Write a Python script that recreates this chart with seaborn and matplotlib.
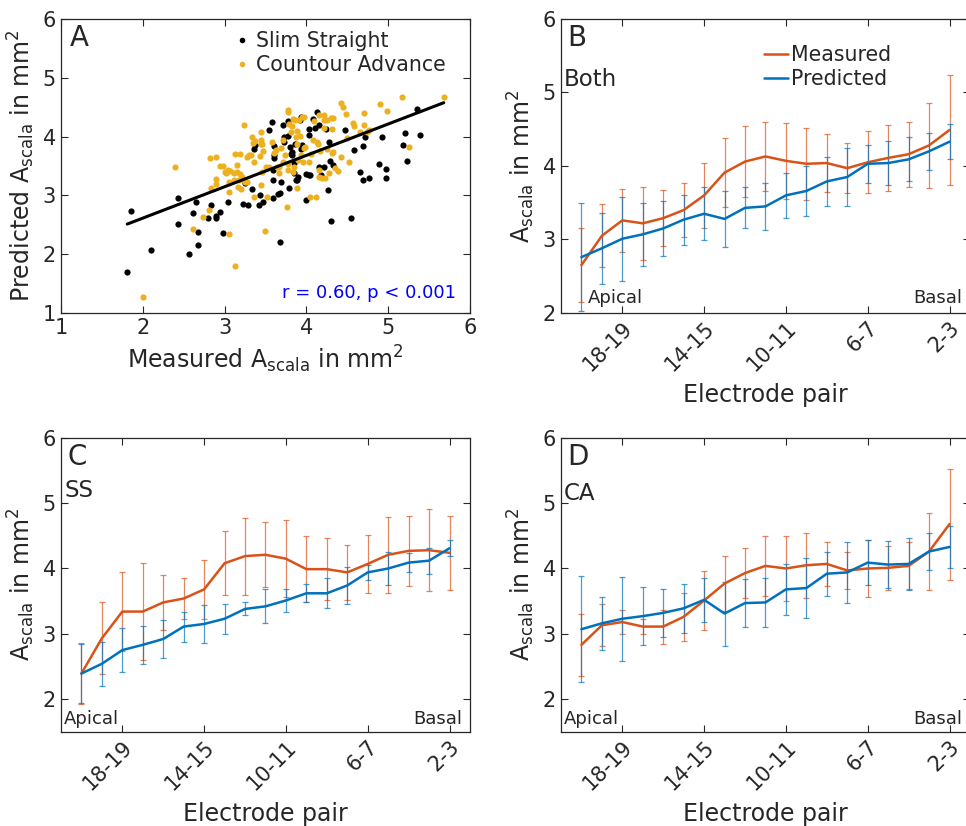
import numpy as np
import pandas as pd
import seaborn as sns
import matplotlib.pyplot as plt
from matplotlib.lines import Line2D

# ---- panel A: measured vs predicted scala area (mm^2)
ss_points = [
    (1.81, 1.69), (1.86, 2.73), (2.10, 2.07), (2.43, 2.96), (2.43, 2.51), (2.56, 2.01),
    (2.61, 2.70), (2.65, 2.88), (2.67, 2.15), (2.68, 2.38), (2.83, 2.83), (2.80, 2.62),
    (2.89, 2.61), (2.90, 2.65), (2.95, 2.72), (2.98, 2.36), (3.04, 2.88), (3.23, 2.85),
    (3.25, 3.21), (3.29, 2.83), (3.34, 3.11), (3.36, 3.79), (3.37, 3.85), (3.42, 2.84),
    (3.43, 3.00), (3.47, 2.89), (3.54, 4.12), (3.58, 4.25), (3.59, 2.96), (3.61, 3.84),
    (3.60, 3.68), (3.60, 3.64), (3.59, 3.44), (3.59, 3.26), (3.68, 3.04), (3.65, 3.02),
    (3.68, 2.20), (3.69, 3.22), (3.71, 4.19), (3.73, 4.00), (3.73, 3.91), (3.77, 4.27),
    (3.78, 4.01), (3.79, 3.13), (3.80, 3.82), (3.81, 3.70), (3.83, 3.68), (3.83, 3.73),
    (3.85, 3.55), (3.86, 3.87), (3.85, 3.38), (3.87, 3.26), (3.89, 3.27), (3.90, 3.31),
    (3.92, 4.29), (3.93, 4.33), (3.94, 3.79), (3.95, 3.86), (3.99, 2.92), (4.00, 3.36),
    (4.03, 4.13), (4.03, 4.03), (4.03, 3.35), (4.05, 3.35), (4.08, 4.30), (4.11, 4.14),
    (4.13, 4.42), (4.16, 4.19), (4.16, 3.49), (4.18, 3.34), (4.21, 3.49), (4.24, 4.13),
    (4.26, 3.10), (4.28, 3.91), (4.29, 3.59), (4.30, 2.56), (4.33, 3.51), (4.47, 4.11),
    (4.55, 2.62), (4.58, 3.77), (4.65, 3.39), (4.69, 3.84), (4.69, 3.27), (4.72, 4.00),
    (4.76, 3.30), (4.89, 3.54), (4.92, 4.00), (4.97, 3.45), (4.97, 3.30), (5.20, 4.06),
    (5.18, 3.86), (5.23, 3.59), (5.35, 4.47), (5.39, 4.02),
]
ca_points = [
    (2.00, 1.28), (2.40, 3.48), (2.62, 2.42), (2.74, 2.63), (2.81, 2.75), (2.82, 3.63),
    (2.83, 3.13), (2.90, 3.65), (2.89, 3.28), (2.90, 3.19), (2.94, 3.50), (2.98, 3.50),
    (3.00, 3.39), (3.02, 3.38), (3.04, 3.43), (3.06, 3.23), (3.06, 3.06), (3.06, 2.35),
    (3.07, 3.41), (3.11, 3.26), (3.12, 3.38), (3.13, 3.70), (3.13, 1.80), (3.15, 3.52),
    (3.15, 3.39), (3.17, 3.15), (3.18, 3.26), (3.19, 3.70), (3.19, 3.36), (3.20, 3.11),
    (3.21, 3.32), (3.24, 4.20), (3.25, 3.23), (3.27, 3.66), (3.28, 3.23), (3.30, 3.68),
    (3.32, 3.68), (3.34, 3.99), (3.35, 3.89), (3.36, 3.56), (3.36, 2.98), (3.37, 3.93),
    (3.43, 3.67), (3.44, 3.18), (3.44, 4.08), (3.44, 3.94), (3.45, 3.87), (3.46, 3.40),
    (3.46, 3.87), (3.47, 3.76), (3.50, 2.40), (3.51, 3.49), (3.52, 2.98), (3.54, 3.48),
    (3.58, 3.90), (3.61, 3.72), (3.63, 3.78), (3.64, 3.48), (3.66, 3.38), (3.67, 3.49),
    (3.69, 3.80), (3.71, 3.94), (3.72, 3.56), (3.74, 3.69), (3.76, 2.80), (3.77, 3.43),
    (3.78, 3.53), (3.78, 4.45), (3.78, 4.41), (3.79, 4.21), (3.81, 4.08), (3.83, 4.18),
    (3.84, 3.40), (3.84, 4.30), (3.85, 3.49), (3.86, 4.28), (3.87, 4.00), (3.88, 4.10),
    (3.89, 3.87), (3.89, 3.12), (3.90, 3.60), (3.91, 4.28), (3.92, 4.01), (3.93, 3.69),
    (3.95, 4.33), (3.96, 3.56), (3.97, 4.33), (3.97, 3.81), (3.98, 3.83), (4.03, 3.56),
    (4.05, 2.98), (4.06, 3.70), (4.08, 3.94), (4.09, 4.27), (4.12, 2.98), (4.13, 3.91),
    (4.14, 3.87), (4.15, 4.36), (4.16, 3.32), (4.16, 3.44), (4.17, 3.76), (4.19, 3.30),
    (4.21, 4.29), (4.21, 4.36), (4.22, 4.14), (4.23, 3.29), (4.25, 3.79), (4.25, 4.29),
    (4.28, 3.38), (4.30, 4.31), (4.31, 4.13), (4.31, 3.72), (4.32, 4.32), (4.32, 3.74),
    (4.35, 3.47), (4.39, 3.42), (4.42, 3.66), (4.42, 4.57), (4.45, 4.51), (4.49, 4.38),
    (4.50, 3.98), (4.52, 3.57), (4.57, 4.23), (4.58, 4.18), (4.65, 4.07), (4.70, 4.40),
    (4.71, 4.20), (4.74, 4.08), (4.76, 4.11), (4.90, 4.55), (4.98, 4.44), (5.17, 4.68),
    (5.25, 3.83), (5.68, 4.68),
]

# ---- panels B-D: per electrode pair, apical -> basal
pairs = ['20-21', '19-20', '18-19', '17-18', '16-17', '15-16', '14-15', '13-14', '12-13',
         '11-12', '10-11', '9-10', '8-9', '7-8', '6-7', '5-6', '4-5', '3-4', '2-3']
tick_pairs = ['18-19', '14-15', '10-11', '6-7', '2-3']

both_meas = [2.65, 3.05, 3.26, 3.22, 3.29, 3.40, 3.60, 3.91, 4.06, 4.13, 4.07, 4.03, 4.04,
             3.97, 4.05, 4.11, 4.16, 4.28, 4.49]
both_meas_sd = [0.50, 0.43, 0.43, 0.50, 0.38, 0.37, 0.44, 0.47, 0.48, 0.47, 0.52, 0.49, 0.39,
                0.34, 0.42, 0.45, 0.44, 0.58, 0.75]
both_pred = [2.76, 2.88, 3.01, 3.07, 3.15, 3.27, 3.35, 3.28, 3.43, 3.45, 3.60, 3.66, 3.79,
             3.85, 4.03, 4.04, 4.09, 4.20, 4.33]
both_pred_sd = [0.73, 0.48, 0.57, 0.43, 0.38, 0.34, 0.36, 0.38, 0.28, 0.32, 0.31, 0.34, 0.33,
                0.40, 0.26, 0.30, 0.30, 0.25, 0.24]

ss_meas = [2.39, 2.93, 3.34, 3.34, 3.48, 3.54, 3.68, 4.08, 4.19, 4.21, 4.15, 3.99, 3.99,
           3.94, 4.07, 4.21, 4.27, 4.28, 4.24]
ss_meas_sd = [0.47, 0.55, 0.61, 0.74, 0.42, 0.31, 0.45, 0.49, 0.59, 0.50, 0.59, 0.51, 0.47,
              0.42, 0.45, 0.58, 0.54, 0.63, 0.57]
ss_pred = [2.39, 2.54, 2.75, 2.83, 2.92, 3.11, 3.15, 3.23, 3.38, 3.42, 3.51, 3.62, 3.62,
           3.74, 3.94, 4.00, 4.09, 4.12, 4.31]
ss_pred_sd = [0.45, 0.34, 0.34, 0.29, 0.29, 0.23, 0.29, 0.23, 0.10, 0.26, 0.18, 0.14, 0.23,
              0.29, 0.11, 0.25, 0.14, 0.20, 0.12]

ca_meas = [2.83, 3.13, 3.18, 3.11, 3.11, 3.26, 3.51, 3.77, 3.93, 4.04, 4.00, 4.05, 4.07,
           3.97, 4.00, 4.01, 4.04, 4.26, 4.68]
ca_meas_sd = [0.47, 0.32, 0.19, 0.11, 0.26, 0.37, 0.45, 0.42, 0.38, 0.46, 0.50, 0.50, 0.34,
              0.29, 0.43, 0.34, 0.36, 0.59, 0.85]
ca_pred = [3.07, 3.16, 3.23, 3.27, 3.32, 3.39, 3.52, 3.31, 3.47, 3.48, 3.68, 3.70, 3.92,
           3.94, 4.09, 4.06, 4.07, 4.26, 4.33]
ca_pred_sd = [0.81, 0.41, 0.64, 0.44, 0.37, 0.38, 0.34, 0.49, 0.37, 0.38, 0.39, 0.46, 0.34,
              0.47, 0.34, 0.36, 0.40, 0.28, 0.32]

ORANGE = '#D95319'
BLUE = '#0072BD'
GOLD = '#EDB120'
AX_COL = '#262626'

sns.set_style('ticks')
plt.rcParams['font.family'] = ['DejaVu Sans']
plt.rcParams['mathtext.default'] = 'regular'
plt.rcParams.update({
    'axes.edgecolor': AX_COL, 'axes.linewidth': 0.9,
    'xtick.color': AX_COL, 'ytick.color': AX_COL,
    'xtick.direction': 'in', 'ytick.direction': 'in',
    'xtick.top': True, 'ytick.right': True,
    'xtick.major.size': 5, 'ytick.major.size': 5,
    'xtick.labelsize': 15, 'ytick.labelsize': 15,
})

ylab = r'A$_{scala}$ in mm$^{2}$'
LAB = 17

fig = plt.figure(figsize=(9.66, 8.26), dpi=100)
axA = fig.add_axes([0.0631, 0.6211, 0.4234, 0.3559])
axB = fig.add_axes([0.5807, 0.6211, 0.4234, 0.3559])
axC = fig.add_axes([0.0631, 0.1142, 0.4234, 0.3556])
axD = fig.add_axes([0.5807, 0.1142, 0.4234, 0.3556])

# ---- A
ss_df = pd.DataFrame(ss_points, columns=['meas', 'pred'])
ca_df = pd.DataFrame(ca_points, columns=['meas', 'pred'])
all_df = pd.concat([ss_df, ca_df])
sns.scatterplot(data=ss_df, x='meas', y='pred', ax=axA, color='black', s=20,
                linewidth=0, zorder=3)
sns.scatterplot(data=ca_df, x='meas', y='pred', ax=axA, color=GOLD, s=20,
                linewidth=0, zorder=3)
sns.regplot(data=all_df, x='meas', y='pred', ax=axA, scatter=False, ci=None,
            truncate=True, line_kws={'color': 'black', 'lw': 2.2, 'zorder': 4})
axA.set_xlim(1, 6)
axA.set_ylim(1, 6)
axA.set_xticks(range(1, 7))
axA.set_yticks(range(1, 7))
axA.set_xlabel(r'Measured A$_{scala}$ in mm$^{2}$', fontsize=LAB, color=AX_COL)
axA.set_ylabel(r'Predicted A$_{scala}$ in mm$^{2}$', fontsize=LAB, color=AX_COL)
axA.text(0.022, 0.935, 'A', transform=axA.transAxes, fontsize=20, va='center')
axA.text(0.966, 0.068, 'r = 0.60, p < 0.001', transform=axA.transAxes, fontsize=13,
         color='#0000FF', ha='right', va='center')
hA = [Line2D([], [], ls='', marker='o', ms=4, color='black', mec='none'),
      Line2D([], [], ls='', marker='o', ms=4, color=GOLD, mec='none')]
axA.legend(hA, ['Slim Straight', 'Countour Advance'], loc='upper left',
           bbox_to_anchor=(0.398, 1.0), frameon=False, fontsize=14.8,
           handlelength=0.6, handletextpad=0.35, labelspacing=0.2, borderaxespad=0.2)


def profile(ax, meas, meas_sd, pred, pred_sd, tag, group, ylim, legend=False):
    df = pd.DataFrame({'x': np.arange(len(pairs)), 'meas': meas, 'pred': pred})
    ax.errorbar(df['x'], df['meas'], yerr=meas_sd, fmt='none', ecolor=ORANGE,
                elinewidth=0.9, capsize=2, capthick=0.9, alpha=0.7)
    ax.errorbar(df['x'], df['pred'], yerr=pred_sd, fmt='none', ecolor=BLUE,
                elinewidth=0.9, capsize=2, capthick=0.9, alpha=0.7)
    sns.lineplot(data=df, x='x', y='meas', ax=ax, color=ORANGE, lw=1.8, label='Measured')
    sns.lineplot(data=df, x='x', y='pred', ax=ax, color=BLUE, lw=1.8, label='Predicted')
    ax.set_xlim(-1, len(pairs))
    ax.set_ylim(*ylim)
    ax.set_yticks([2, 3, 4, 5, 6])
    ax.set_xticks([pairs.index(p) for p in tick_pairs])
    ax.set_xticklabels(tick_pairs, rotation=45, ha='right', rotation_mode='anchor')
    ax.set_xlabel('Electrode pair', fontsize=LAB, color=AX_COL, labelpad=6)
    ax.set_ylabel(ylab, fontsize=LAB, color=AX_COL)
    ax.text(0.015, 0.935, tag, transform=ax.transAxes, fontsize=20, va='center')
    ax.text(0.008, group[1], group[0], transform=ax.transAxes, fontsize=16.5, va='center')
    low = ylim[0] < 2
    ax.text(0.008 if low else 0.066, 0.042 if low else 0.05, 'Apical',
            transform=ax.transAxes, fontsize=13, va='center')
    ax.text(0.982, 0.042 if low else 0.05, 'Basal', transform=ax.transAxes,
            fontsize=13, va='center', ha='right')
    if legend:
        ax.legend(loc='upper left', bbox_to_anchor=(0.45, 0.975), frameon=False,
                  fontsize=14.8, handlelength=1.2, handletextpad=0.15, labelspacing=0.2)
    else:
        ax.get_legend().remove()


profile(axB, both_meas, both_meas_sd, both_pred, both_pred_sd, 'B', ('Both', 0.793),
        (2, 6), legend=True)
profile(axC, ss_meas, ss_meas_sd, ss_pred, ss_pred_sd, 'C', ('SS', 0.82), (1.5, 6))
profile(axD, ca_meas, ca_meas_sd, ca_pred, ca_pred_sd, 'D', ('CA', 0.81), (1.5, 6))

fig.savefig('out.png', dpi=100)
